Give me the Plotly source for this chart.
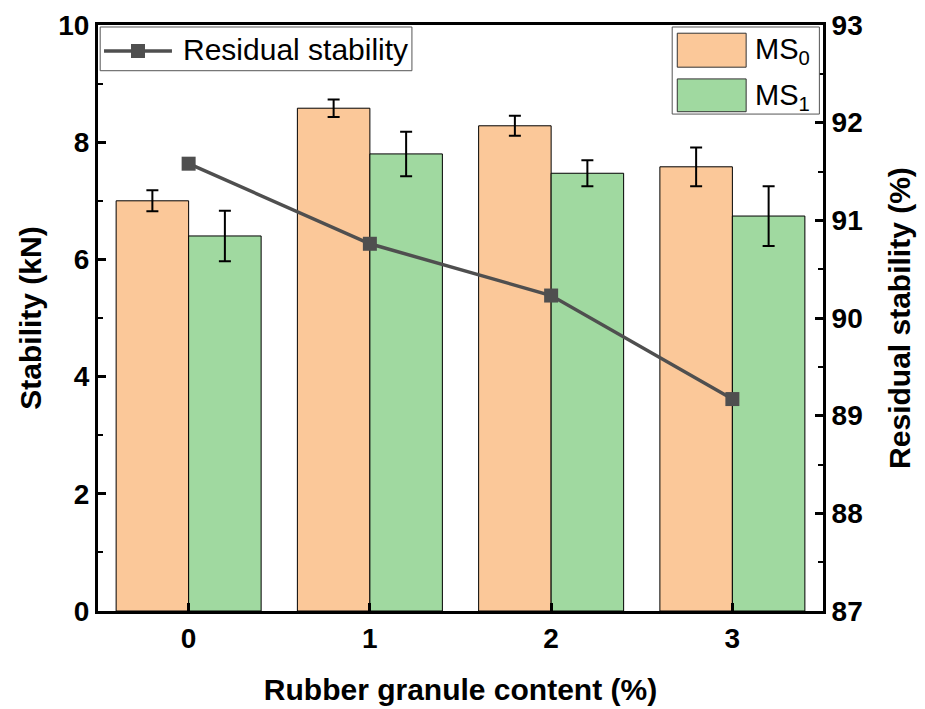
import plotly.graph_objects as go

categories = [0, 1, 2, 3]
ms0 = [7.00, 8.58, 8.28, 7.58]
ms0_err = [0.18, 0.15, 0.17, 0.33]
ms1 = [6.40, 7.80, 7.47, 6.74]
ms1_err = [0.43, 0.38, 0.22, 0.51]
residual = [91.58, 90.76, 90.23, 89.17]

FONT = "Liberation Sans, Arial, sans-serif"
TICK_FS = 28
TITLE_FS = 30
LEG_FS = 30
C_MS0 = "#FBC899"
C_MS1 = "#A0D9A0"
C_LINE = "#4F4F4F"
fig = go.Figure()

fig.add_trace(go.Bar(
    x=categories, y=ms0, name="MS<sub>0</sub>",
    marker=dict(color=C_MS0, line=dict(color="black", width=1)),
    error_y=dict(type="data", array=ms0_err, color="black", thickness=2, width=6),
    showlegend=False,
))
fig.add_trace(go.Bar(
    x=categories, y=ms1, name="MS<sub>1</sub>",
    marker=dict(color=C_MS1, line=dict(color="black", width=1)),
    error_y=dict(type="data", array=ms1_err, color="black", thickness=2, width=6),
    showlegend=False,
))
fig.add_trace(go.Scatter(
    x=categories, y=residual, name="Residual stability", yaxis="y2",
    mode="lines+markers",
    line=dict(color=C_LINE, width=3.5),
    marker=dict(symbol="square", size=14, color=C_LINE),
    showlegend=False,
))

# legends drawn in paper coordinates (boxed, large swatches as in the reference)
shapes = [
    # legend 1: Residual stability
    dict(type="rect", xref="paper", yref="paper", x0=0.003, x1=0.433, y0=0.922, y1=0.9966,
         fillcolor="white", line=dict(color="#555555", width=1), layer="above"),
    dict(type="line", xref="paper", yref="paper", x0=0.0083, x1=0.1020, y0=0.9556, y1=0.9556,
         line=dict(color=C_LINE, width=3.5), layer="above"),
    dict(type="rect", xref="paper", yref="paper", x0=0.0455, x1=0.0648, y0=0.9437, y1=0.9676,
         fillcolor=C_LINE, line=dict(color=C_LINE, width=0), layer="above"),
    # legend 2: MS0 / MS1
    dict(type="rect", xref="paper", yref="paper", x0=0.792, x1=0.995, y0=0.848, y1=0.9966,
         fillcolor="white", line=dict(color="#555555", width=1), layer="above"),
    dict(type="rect", xref="paper", yref="paper", x0=0.799, x1=0.894, y0=0.928, y1=0.986,
         fillcolor=C_MS0, line=dict(color="#333333", width=1), layer="above"),
    dict(type="rect", xref="paper", yref="paper", x0=0.799, x1=0.894, y0=0.852, y1=0.908,
         fillcolor=C_MS1, line=dict(color="#333333", width=1), layer="above"),
]
annotations = [
    dict(xref="paper", yref="paper", x=0.1145, y=0.9590, xanchor="left", yanchor="middle",
         text="Residual stability", showarrow=False,
         font=dict(family=FONT, size=LEG_FS, color="black")),
    dict(xref="paper", yref="paper", x=0.9030, y=0.955, xanchor="left", yanchor="middle",
         text="MS<sub>0</sub>", showarrow=False, font=dict(family=FONT, size=LEG_FS - 1, color="black")),
    dict(xref="paper", yref="paper", x=0.9030, y=0.877, xanchor="left", yanchor="middle",
         text="MS<sub>1</sub>", showarrow=False, font=dict(family=FONT, size=LEG_FS - 1, color="black")),
]

fig.update_layout(
    width=925, height=709,
    margin=dict(l=98, r=102, t=25, b=98, autoexpand=False),
    plot_bgcolor="white", paper_bgcolor="white",
    barmode="group", bargap=0.2, bargroupgap=0,
    font=dict(family=FONT, size=TICK_FS, color="black"),
    showlegend=False,
    shapes=shapes, annotations=annotations,
    xaxis=dict(
        range=[-0.5, 3.5], tickvals=categories, ticktext=[str(c) for c in categories],
        showline=True, linecolor="black", linewidth=3, mirror=True,
        ticks="inside", ticklen=8, tickwidth=3, tickcolor="black",
        showgrid=False, zeroline=False, automargin=False,
        tickfont=dict(family=FONT, size=TICK_FS, color="black", weight="bold"),
        title=dict(text="<b>Rubber granule content (%)</b>", font=dict(size=TITLE_FS), standoff=27),
    ),
    yaxis=dict(
        range=[0, 10], tickvals=[0, 2, 4, 6, 8, 10],
        showline=True, linecolor="black", linewidth=3,
        ticks="inside", ticklen=8, tickwidth=3, tickcolor="black",
        minor=dict(ticks="inside", ticklen=5, tickwidth=2, tickcolor="black", dtick=1),
        showgrid=False, zeroline=False, automargin=False,
        tickfont=dict(family=FONT, size=TICK_FS, color="black", weight="bold"),
        title=dict(text="<b>Stability (kN)</b>", font=dict(size=TITLE_FS), standoff=8),
    ),
    yaxis2=dict(
        range=[87, 93], dtick=1, overlaying="y", side="right",
        showline=True, linecolor="black", linewidth=3,
        ticks="inside", ticklen=8, tickwidth=3, tickcolor="black",
        minor=dict(ticks="inside", ticklen=5, tickwidth=2, tickcolor="black", dtick=0.5),
        showgrid=False, zeroline=False, automargin=False,
        tickfont=dict(family=FONT, size=TICK_FS, color="black", weight="bold"),
        title=dict(text="<b>Residual stability (%)</b>", font=dict(size=TITLE_FS), standoff=28),
    ),
)

fig.write_html("out.html")
